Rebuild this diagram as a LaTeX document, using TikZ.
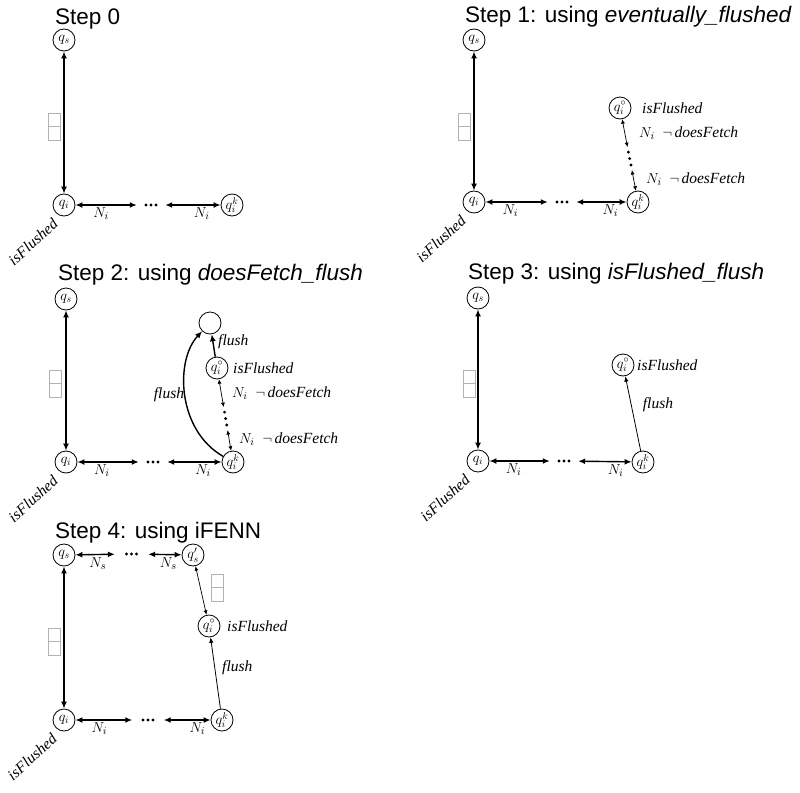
\documentclass[tikz,border=0pt]{standalone}
\usepackage{fontspec}
\setmainfont{Liberation Serif}
\newfontfamily\titlefont{Liberation Sans}
\usetikzlibrary{arrows.meta,calc}
\newcommand\mydots[1]{\fill ($(#1)+(-5,0)$) circle (1.6pt) (#1) circle (1.6pt) ($(#1)+(5,0)$) circle (1.6pt);}
\begin{document}
\begin{tikzpicture}[x=1pt,y=-1pt,
 st/.style={circle,draw,line width=0.8pt,minimum size=22pt,inner sep=-1pt,font=\fontsize{14.5}{16}\selectfont},
 ttl/.style={anchor=base west,inner sep=0pt,font=\titlefont\fontsize{22.5}{26}\selectfont},
 lbl/.style={inner sep=1pt,font=\fontsize{15.5}{18}\selectfont},
 ilbl/.style={inner sep=1pt,anchor=west,font=\fontsize{15.5}{18}\selectfont\itshape},
 dotsn/.style={minimum width=28pt,minimum height=6pt,inner sep=0pt},
 thk/.style={line width=1.4pt,{Latex[length=7pt,width=6pt]}-{Latex[length=7pt,width=6pt]}},
 thkone/.style={line width=1.4pt,-{Latex[length=7pt,width=6pt]}},
 thn/.style={line width=0.7pt,{Latex[length=4.5pt,width=4pt]}-{Latex[length=4.5pt,width=4pt]}},
 thnone/.style={line width=0.8pt,-{Latex[length=5.5pt,width=4.5pt]}},
 gbox/.style={draw=gray!60,line width=0.6pt,minimum width=12pt,minimum height=13.5pt,inner sep=0pt},
 rot/.style={rotate=42,font=\fontsize{15.5}{18}\selectfont\itshape,inner sep=0pt},
]
\useasboundingbox (0,0) rectangle (800,792);

% ---------------- Step 0
\node[ttl] (t0) at (55,25) {Step 0};
\node[st] (s0) at (64,40) {$q_s$};
\node[st] (i0) at (64,205) {$q_i$};
\node[st] (k0) at (232,205) {$q_i^k$};
\node[dotsn] (d0) at (151,205) {};
\mydots{d0}
\draw[thk] (s0) -- (i0);
\draw[thk] (i0) -- (d0) node[lbl,below=1pt,pos=0.42] (n0a) {$N_i$};
\draw[thk] (d0) -- (k0) node[lbl,below=1pt,pos=0.66] (n0b) {$N_i$};
\node[gbox] (b0a) at (54,119.8) {};
\node[gbox] (b0b) at (54,133.3) {};
\node[rot] (r0) at (33,242) {isFlushed};

% ---------------- Step 1
\node[ttl] (t1) at (465,23) {Step 1: using \textit{eventually\_flushed}};
\node[st] (s1) at (474,40) {$q_s$};
\node[st] (i1) at (474,202) {$q_i$};
\node[st] (k1) at (638,202) {$q_i^k$};
\node[st] (o1) at (620,108) {$q_i^\circ$};
\node[dotsn] (d1) at (562,202) {};
\mydots{d1}
\draw[thk] (s1) -- (i1);
\draw[thk] (i1) -- (d1) node[lbl,below=1pt,pos=0.4] (n1a) {$N_i$};
\draw[thk] (d1) -- (k1) node[lbl,below=1pt,pos=0.68] (n1b) {$N_i$};
\node[gbox] (b1a) at (464,119.8) {};
\node[gbox] (b1b) at (464,133.3) {};
\node[rot] (r1) at (441,239) {isFlushed};
\node[ilbl] (f1) at (641,108) {isFlushed};
\path (o1) -- (k1) coordinate[pos=0.39] (c1a) coordinate[pos=0.46] (e1a)
  coordinate[pos=0.55] (e1b) coordinate[pos=0.64] (e1c) coordinate[pos=0.71] (c1b);
\draw[thn] (o1) -- (c1a);
\draw[thn] (c1b) -- (k1);
\fill (e1a) circle (1.6pt) (e1b) circle (1.6pt) (e1c) circle (1.6pt);
\node[lbl,anchor=west] (g1a) at (638,133) {$N_i\ \ \neg\,$\textit{doesFetch}};
\node[lbl,anchor=west] (g1b) at (645,179) {$N_i\ \ \neg\,$\textit{doesFetch}};

% ---------------- Step 2
\node[ttl] (t2) at (58,280) {Step 2: using \textit{doesFetch\_flush}};
\node[st] (s2) at (66,299) {$q_s$};
\node[st] (i2) at (66,462) {$q_i$};
\node[st] (k2) at (233,462) {$q_i^k$};
\node[st] (o2) at (217,368) {$q_i^\circ$};
\node[st] (e2) at (210,323) {};
\node[dotsn] (d2) at (153,462) {};
\mydots{d2}
\draw[thk] (s2) -- (i2);
\draw[thk] (i2) -- (d2) node[lbl,below=1pt,pos=0.4] (n2a) {$N_i$};
\draw[thk] (d2) -- (k2) node[lbl,below=1pt,pos=0.66] (n2b) {$N_i$};
\node[gbox] (b2a) at (55.5,377) {};
\node[gbox] (b2b) at (55.5,390.5) {};
\node[rot] (r2) at (33,499) {isFlushed};
\draw[thkone] (o2) -- (e2);
\node[ilbl] (f2a) at (217,342) {flush};
\draw[thkone] (k2) .. controls (177,430) and (175,360) .. (e2);
\node[lbl,font=\fontsize{15.5}{18}\selectfont\itshape] (f2b) at (169,395) {flush};
\node[ilbl] (h2) at (232,368) {isFlushed};
\path (o2) -- (k2) coordinate[pos=0.39] (c2a) coordinate[pos=0.46] (e2a)
  coordinate[pos=0.55] (e2b) coordinate[pos=0.64] (e2c) coordinate[pos=0.71] (c2b);
\draw[thn] (o2) -- (c2a);
\draw[thn] (c2b) -- (k2);
\fill (e2a) circle (1.6pt) (e2b) circle (1.6pt) (e2c) circle (1.6pt);
\node[lbl,anchor=west] (g2a) at (231,393) {$N_i\ \ \neg\,$\textit{doesFetch}};
\node[lbl,anchor=west] (g2b) at (238,439) {$N_i\ \ \neg\,$\textit{doesFetch}};

% ---------------- Step 3
\node[ttl] (t3) at (468,279) {Step 3: using \textit{isFlushed\_flush}};
\node[st] (s3) at (478,298) {$q_s$};
\node[st] (i3) at (478,461) {$q_i$};
\node[st] (k3) at (643,462) {$q_i^k$};
\node[st] (o3) at (623,365) {$q_i^\circ$};
\node[dotsn] (d3) at (564,461) {};
\mydots{d3}
\draw[thk] (s3) -- (i3);
\draw[thk] (i3) -- (d3) node[lbl,below=1pt,pos=0.4] (n3a) {$N_i$};
\draw[thk] (d3) -- (k3) node[lbl,below=1pt,pos=0.7] (n3b) {$N_i$};
\node[gbox] (b3a) at (469,377) {};
\node[gbox] (b3b) at (469,390.5) {};
\node[rot] (r3) at (445,498) {isFlushed};
\draw[thnone] (k3) -- (o3);
\node[lbl,font=\fontsize{15.5}{18}\selectfont\itshape] (f3) at (658,405) {flush};
\node[ilbl] (h3) at (636,365) {isFlushed};

% ---------------- Step 4
\node[ttl] (t4) at (55,538) {Step 4: using iFENN};
\node[st] (s4) at (64,555) {$q_s$};
\node[st] (p4) at (193,555) {$q_s'$};
\node[st] (o4) at (209,626) {$q_i^\circ$};
\node[st] (i4) at (64,720) {$q_i$};
\node[st] (k4) at (222,720) {$q_i^k$};
\node[dotsn,minimum width=33pt] (dt4) at (131.5,554) {};
\mydots{dt4}
\node[dotsn,minimum width=31pt] (d4) at (148,720) {};
\mydots{d4}
\draw[thk] (s4) -- (dt4) node[lbl,below=1pt,pos=0.57] (m4a) {$N_s$};
\draw[thk] (dt4) -- (p4) node[lbl,below=1pt,pos=0.6] (m4b) {$N_s$};
\draw[thk] (s4) -- (i4);
\draw[thk] (i4) -- (d4) node[lbl,below=1pt,pos=0.42] (n4a) {$N_i$};
\draw[thk] (d4) -- (k4) node[lbl,below=1pt,pos=0.72] (n4b) {$N_i$};
\node[gbox] (b4a) at (54.5,634.8) {};
\node[gbox] (b4b) at (54.5,648.3) {};
\draw[thn] (p4) -- (o4);
\node[gbox] (b4c) at (217.5,581) {};
\node[gbox] (b4d) at (217.5,594.5) {};
\node[ilbl] (h4) at (226,626) {isFlushed};
\draw[thnone] (k4) -- (o4);
\node[ilbl] (f4) at (221,668) {flush};
\node[rot] (r4) at (32,757) {isFlushed};
\end{tikzpicture}
\end{document}
